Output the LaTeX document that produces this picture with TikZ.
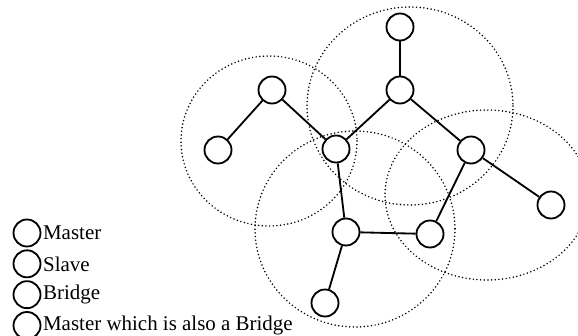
\documentclass[tikz,border=0pt]{standalone}
\usepackage{fontspec}
\setmainfont{Liberation Serif}
\usepackage{tikz}
\usetikzlibrary{positioning}

\begin{document}
\begin{tikzpicture}[
      x=0.025cm, y=-0.025cm,
      node distance=0.05cm,
      station/.style={draw, circle, line width=1.3pt, minimum size=0.675cm,
        inner sep=0pt, fill=white},
      link/.style={line width=1.3pt},
      reach/.style={line width=1.2pt, line cap=round, dash pattern=on 0pt off 2.6pt},
      legtext/.style={font=\fontsize{14.9}{18}\selectfont, inner sep=1pt}
    ]
    \useasboundingbox (0,0) rectangle (578,335);
    % radio ranges
    \draw[reach] (269,141) ellipse [x radius=88, y radius=85];
    \draw[reach] (410,106) ellipse [x radius=103, y radius=99];
    \draw[reach] (355,229) ellipse [x radius=100, y radius=98];
    \draw[reach] (487,195) ellipse [x radius=102, y radius=85];
    % devices
    \node[station] (top)   at (400,27)  {};
    \node[station] (mid)   at (400,90)  {};
    \node[station] (left)  at (218,150) {};
    \node[station] (peak)  at (272,90)  {};
    \node[station] (hub)   at (336,149) {};
    \node[station] (east)  at (471,150) {};
    \node[station] (far)   at (551,205) {};
    \node[station] (low)   at (346,232) {};
    \node[station] (right) at (430,234) {};
    \node[station] (foot)  at (325,303) {};
    \draw[link] (top)  -- (mid);
    \draw[link] (mid)  -- (hub);
    \draw[link] (mid)  -- (east);
    \draw[link] (left) -- (peak);
    \draw[link] (peak) -- (hub);
    \draw[link] (hub)  -- (low);
    \draw[link] (low)  -- (right);
    \draw[link] (right) -- (east);
    \draw[link] (east) -- (far);
    \draw[link] (low)  -- (foot);
    % legend
    \node[station] (lmaster) at (27,233) {};
    \node[station, below=of lmaster] (lslave)  {};
    \node[station, below=of lslave]  (lbridge) {};
    \node[station, below=of lbridge] (lboth)   {};
    \node[legtext, right=0pt of lmaster] (tmaster) {Master};
    \node[legtext, right=0pt of lslave]  (tslave)  {Slave};
    \node[legtext, right=0pt of lbridge] (tbridge) {Bridge};
    \node[legtext, right=0pt of lboth]   (tboth)   {Master which is also a Bridge};
  \end{tikzpicture}
\end{document}
